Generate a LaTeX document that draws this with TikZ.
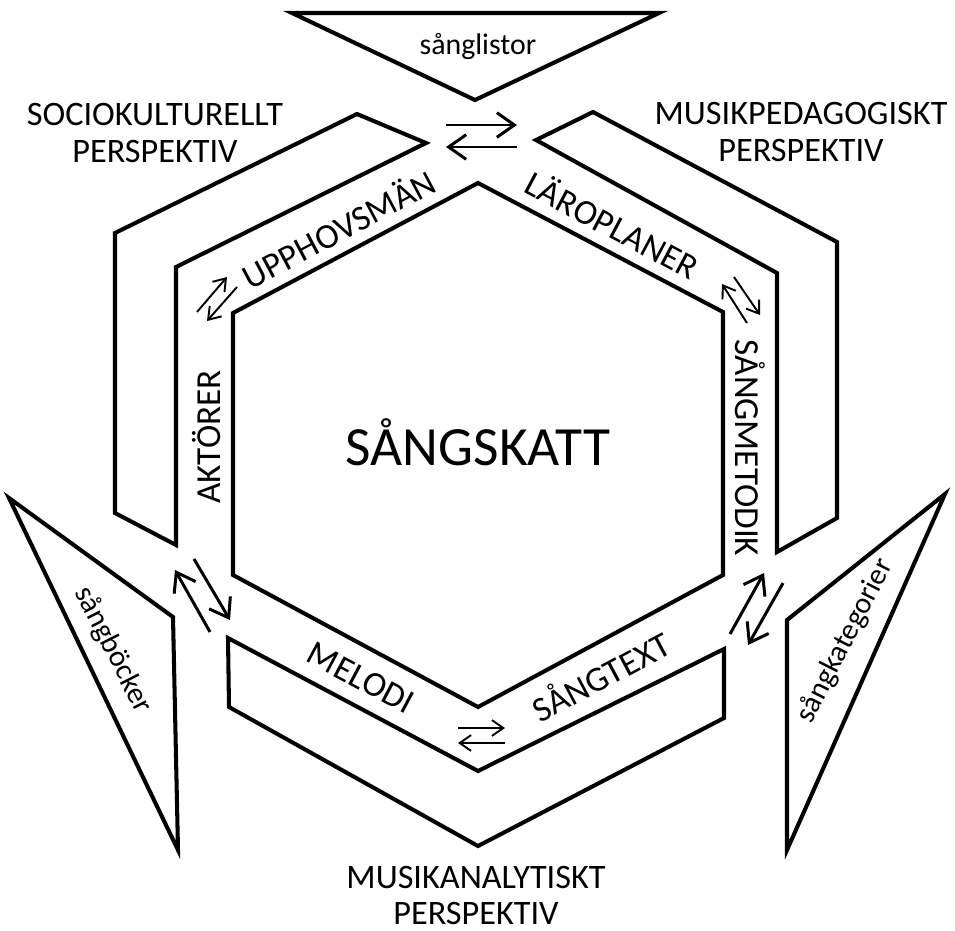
\documentclass[tikz,border=0pt]{standalone}
\usepackage{fontspec}
\setmainfont{Carlito}
\usetikzlibrary{arrows.meta}

\begin{document}
\begin{tikzpicture}[
  x=0.02cm, y=-0.02cm,
  band/.style={draw, line width=2.3pt, line join=miter},
  ringtext/.style={font=\fontsize{20}{22}\selectfont, inner sep=0pt},
  persp/.style={font=\fontsize{19.5}{20.5}\selectfont, align=center, inner sep=0pt},
  srctext/.style={font=\fontsize{17}{19}\selectfont, inner sep=0pt},
  bigarrow/.style={line width=1.7pt, -{Straight Barb[length=10pt,width=14pt]}},
  smallarrow/.style={line width=1.1pt, -{Straight Barb[length=6.5pt,width=9pt]}}
]
\useasboundingbox (0,0) rectangle (955,930);

% centre hexagon
\draw[band] (478,183) -- (723,312) -- (723,575) -- (478,707) -- (233,575) -- (233,313) -- cycle;
\node[font=\fontsize{31.5}{34}\selectfont] (skatt) at (478,442) {SÅNGSKATT};

% the three perspective bands
\draw[band] (357,114) -- (426,143) -- (176,267) -- (176,545) -- (115,513) -- (115,233) -- cycle;
\draw[band] (593,112) -- (837,242) -- (837,518) -- (777,552) -- (777,273) -- (536,140) -- cycle;
\draw[band] (228,638) -- (478,771) -- (724,649) -- (724,718) -- (478,846) -- (229,707) -- cycle;

\node[persp] (socio) at (155,133) {SOCIOKULTURELLT\\PERSPEKTIV};
\node[persp] (pedag) at (801,132) {MUSIKPEDAGOGISKT\\PERSPEKTIV};
\node[persp] (analys) at (476,895) {MUSIKANALYTISKT\\PERSPEKTIV};

% source triangles
\draw[band] (292,13) -- (659,13) -- (475,100) -- cycle;
\draw[band] (9,498) -- (173,617) -- (178,850) -- cycle;
\draw[band] (945,494) -- (787,620) -- (787,850) -- cycle;

\node[srctext] (listor) at (478,46) {sånglistor};
\node[srctext, rotate=-63] (bocker) at (113,650) {sångböcker};
\node[srctext, rotate=63] (kategorier) at (845,641) {sångkategorier};

% ring labels
\node[ringtext, rotate=28] (upphov) at (338,228) {UPPHOVSMÄN};
\node[ringtext, rotate=-28] (laroplan) at (613,224) {LÄROPLANER};
\node[ringtext, rotate=-90] (metodik) at (750,448) {SÅNGMETODIK};
\node[ringtext, rotate=90] (aktorer) at (207,437) {AKTÖRER};
\node[ringtext, rotate=-28] (melodi) at (361,678) {MELODI};
\node[ringtext, rotate=28] (sangtext) at (600,675) {SÅNGTEXT};

% arrow end points
\coordinate (t1) at (446,125); \coordinate (t2) at (517,125);
\coordinate (t3) at (517,147); \coordinate (t4) at (446,147);
\coordinate (ul1) at (197,312); \coordinate (ul2) at (227,277);
\coordinate (ul3) at (237,287); \coordinate (ul4) at (207,321);
\coordinate (ur1) at (747,323); \coordinate (ur2) at (722,284);
\coordinate (ur3) at (734,277); \coordinate (ur4) at (760,315);
\coordinate (ll1) at (210,632); \coordinate (ll2) at (175,570);
\coordinate (ll3) at (194,559); \coordinate (ll4) at (230,620);
\coordinate (lr1) at (730,634); \coordinate (lr2) at (764,573);
\coordinate (lr3) at (783,583); \coordinate (lr4) at (748,645);
\coordinate (b1) at (458,728); \coordinate (b2) at (505,728);
\coordinate (b3) at (505,743); \coordinate (b4) at (458,743);

% exchange arrows
\draw[bigarrow] (t1) -- (t2);
\draw[bigarrow] (t3) -- (t4);
\draw[smallarrow] (ul1) -- (ul2);
\draw[smallarrow] (ul3) -- (ul4);
\draw[smallarrow] (ur1) -- (ur2);
\draw[smallarrow] (ur3) -- (ur4);
\draw[bigarrow] (ll1) -- (ll2);
\draw[bigarrow] (ll3) -- (ll4);
\draw[bigarrow] (lr1) -- (lr2);
\draw[bigarrow] (lr3) -- (lr4);
\draw[smallarrow] (b1) -- (b2);
\draw[smallarrow] (b3) -- (b4);

\end{tikzpicture}
\end{document}
